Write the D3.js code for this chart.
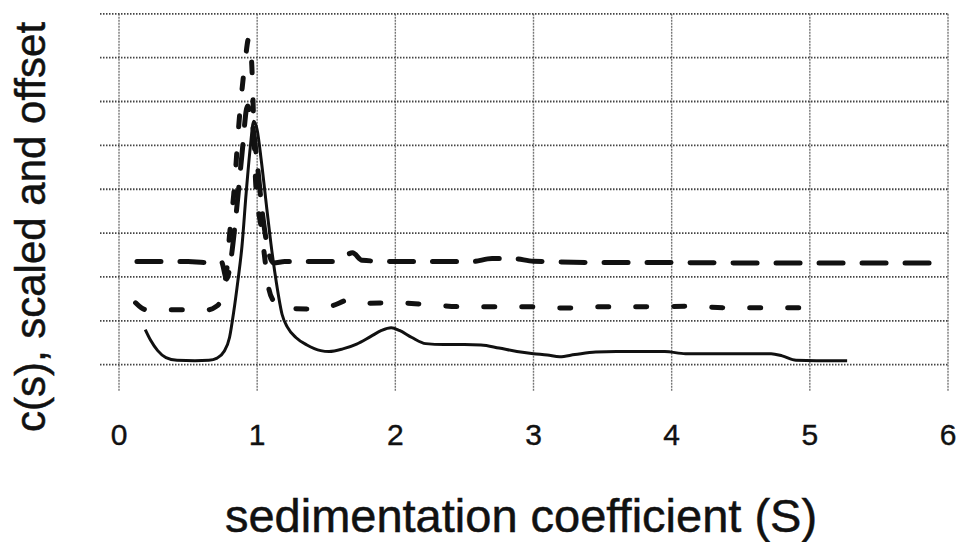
<!DOCTYPE html>
<style>
body { margin: 0; background: #fff; }
text { font-family: "Liberation Sans", Arial, sans-serif; fill: #111; stroke: #111; stroke-width: 0.5px; }
.hgrid { stroke: #444; stroke-width: 1.8; stroke-dasharray: 1.5,1.5; }
.vgrid { stroke: #777; stroke-width: 1.4; stroke-dasharray: 2,1; }
.curve { fill: none; stroke: #111; stroke-linejoin: round; }
</style>
<body>
<script src="https://d3js.org/d3.v7.min.js"></script>
<script>
var width = 966;
var height = 542;

// x ticks and y grid levels
var xTicks = [0, 1, 2, 3, 4, 5, 6];
var yGrid = [0, 1, 2, 3, 4, 5, 6, 7, 8];

// solid line: c(s)
var solid = [[0.19,0.80],[0.23,0.55],[0.28,0.32],[0.34,0.16],[0.42,0.10],[0.55,0.09],[0.65,0.10],
  [0.71,0.15],[0.76,0.30],[0.80,0.62],[0.83,1.20],[0.86,1.90],[0.89,2.70],[0.92,3.90],[0.95,4.95],
  [0.975,5.55],[1.00,5.35],[1.03,4.65],[1.07,3.55],[1.10,2.75],[1.14,1.85],[1.18,1.15],[1.22,0.85],
  [1.28,0.62],[1.36,0.45],[1.46,0.32],[1.52,0.30],[1.62,0.36],[1.72,0.47],[1.82,0.64],[1.90,0.78],
  [1.97,0.84],[2.03,0.78],[2.12,0.62],[2.22,0.48],[2.35,0.46],[2.50,0.46],[2.62,0.45],[2.75,0.38],
  [2.88,0.30],[3.00,0.25],[3.10,0.22],[3.19,0.18],[3.30,0.23],[3.45,0.29],[3.60,0.30],[3.80,0.30],
  [3.95,0.30],[4.10,0.25],[4.40,0.25],[4.72,0.25],[4.80,0.20],[4.90,0.10],[5.05,0.09],[5.27,0.09]];

// short dashed line
var shortDash = [[0.12,1.41],[0.16,1.30],[0.20,1.25],[0.45,1.25],[0.64,1.25],[0.70,1.32],[0.73,1.42],
  [0.76,1.80],[0.78,2.16],[0.80,2.96],[0.83,3.87],[0.87,5.58],[0.91,6.83],[0.94,7.45],[0.96,6.90],
  [0.975,5.50],[0.99,4.10],[1.03,3.10],[1.06,2.30],[1.08,1.80],[1.12,1.45],[1.20,1.28],[1.45,1.27],
  [1.55,1.35],[1.67,1.48],[1.78,1.40],[2.00,1.41],[2.20,1.38],[2.50,1.32],[2.80,1.32],[3.00,1.32],
  [3.20,1.29],[3.50,1.32],[3.80,1.32],[4.10,1.33],[4.40,1.30],[4.70,1.30],[5.07,1.30]];

// long dashed line
var longDash = [[0.13,2.35],[0.50,2.35],[0.62,2.33],[0.74,2.35],[0.78,1.95],[0.81,2.40],[0.85,3.50],
  [0.89,4.80],[0.93,5.90],[0.96,5.60],[1.00,4.60],[1.04,3.40],[1.08,2.60],[1.12,2.32],[1.20,2.35],
  [1.55,2.35],[1.62,2.45],[1.69,2.55],[1.76,2.38],[2.00,2.35],[2.55,2.35],[2.70,2.42],[2.85,2.42],
  [3.00,2.36],[3.50,2.33],[3.90,2.33],[4.50,2.32],[5.00,2.32],[5.87,2.32]];

var svg = d3.select("body")
            .append("svg")
            .attr("width", width)
            .attr("height", height);

var x = d3.scaleLinear().domain([0, 6]).range([119, 948]);
var y = d3.scaleLinear().domain([-0.6, 8]).range([391, 13.8]);

// vertical grid
svg.append("g")
   .selectAll("line")
   .data(xTicks)
   .enter()
   .append("line")
   .attr("class", "vgrid")
   .attr("x1", function(d) { return x(d); })
   .attr("x2", function(d) { return x(d); })
   .attr("y1", y(8))
   .attr("y2", y(-0.6));

// horizontal grid (with little tick stubs left of the axis)
svg.append("g")
   .selectAll("line")
   .data(yGrid)
   .enter()
   .append("line")
   .attr("class", "hgrid")
   .attr("x1", x(0) - 19)
   .attr("x2", x(6))
   .attr("y1", function(d) { return y(d); })
   .attr("y2", function(d) { return y(d); });

// x tick labels
svg.append("g")
   .selectAll("text")
   .data(xTicks)
   .enter()
   .append("text")
   .attr("x", function(d) { return x(d); })
   .attr("y", 445)
   .attr("text-anchor", "middle")
   .style("font-size", "30px")
   .style("stroke-width", "0.4px")
   .text(function(d) { return d; });

var line = d3.line()
    .x(function(d) { return x(d[0]); })
    .y(function(d) { return y(d[1]); })
    .curve(d3.curveMonotoneX);

svg.append("path")
   .datum(solid)
   .attr("class", "curve")
   .attr("stroke-width", 3)
   .attr("d", line);

svg.append("path")
   .datum(shortDash)
   .attr("class", "curve")
   .attr("stroke-width", 5)
   .attr("stroke-linecap", "round")
   .attr("stroke-dasharray", "11,27")
   .attr("d", line);

svg.append("path")
   .datum(longDash)
   .attr("class", "curve")
   .attr("stroke-width", 5)
   .attr("stroke-linecap", "round")
   .attr("stroke-dasharray", "24,19")
   .attr("d", line);

// axis titles
svg.append("text")
   .attr("x", 521)
   .attr("y", 532)
   .attr("text-anchor", "middle")
   .style("font-size", "47px")
   .text("sedimentation coefficient (S)");

svg.append("text")
   .attr("transform", "translate(45,227) rotate(-90)")
   .attr("text-anchor", "middle")
   .style("font-size", "42px")
   .text("c(s), scaled and offset");
</script>
</body>
